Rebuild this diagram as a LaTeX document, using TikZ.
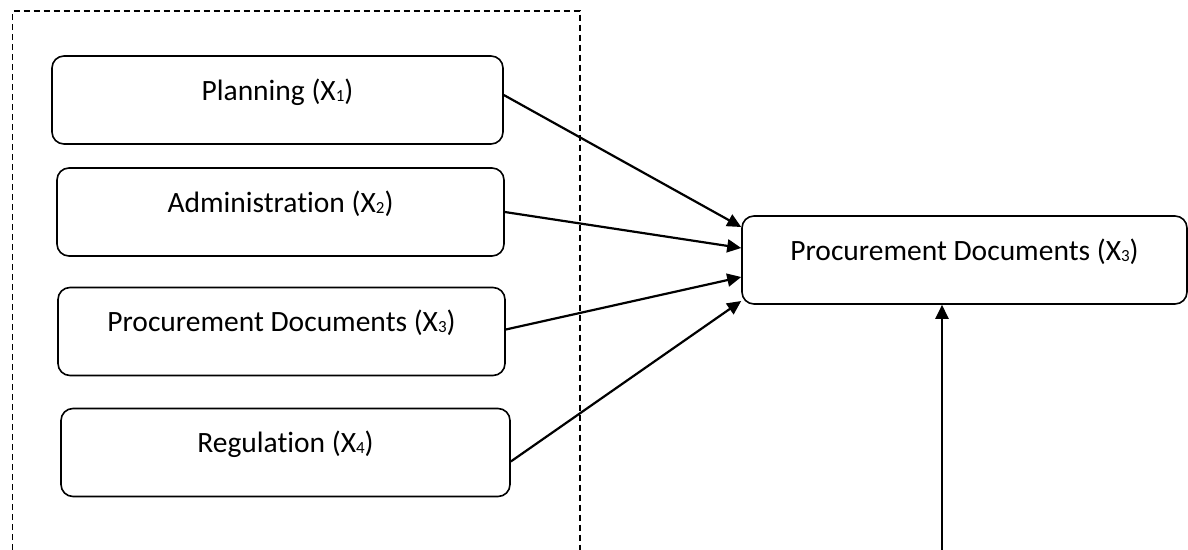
\documentclass[tikz,border=0pt]{standalone}
\usepackage{fontspec}
\setmainfont{Carlito}[Ligatures=NoCommon]
\usetikzlibrary{arrows.meta}
% index of a variable, set as a small digit near the baseline
\newcommand\varidx[1]{\raisebox{-0.05em}{\fontsize{17}{17}\selectfont #1}}
\begin{document}
\begin{tikzpicture}[x=1pt,y=-1pt,
  factor/.style={draw, line width=1.6pt, rounded corners=12pt, inner sep=0pt,
    minimum height=88pt, text height=18pt, text depth=18pt,
    font=\fontsize{29.5}{34}\selectfont},
  link/.style={line width=2.2pt, -{Triangle[length=14pt,width=13pt]}},
  group/.style={line width=1.4pt, dash pattern=on 6.5pt off 3.5pt}]
\useasboundingbox (0,0) rectangle (1188,549);

% dashed frame round the independent variables (open at the bottom)
\draw[group] (12.5,560) -- (12.5,11) -- (580,11) -- (580,560);

% independent variables
\node[factor, minimum width=451pt] (plan) at (277.5,100) {Planning (X\varidx{1})};
\node[factor, minimum width=447pt] (admin) at (280.5,212) {Administration (X\varidx{2})};
\node[factor, minimum width=447pt] (docs) at (281.5,331.5) {Procurement Documents (X\varidx{3})};
\node[factor, minimum width=449pt] (reg) at (285.5,452.5) {Regulation (X\varidx{4})};

% dependent variable
\node[factor, minimum width=445pt] (target) at (964.5,260) {Procurement Documents (X\varidx{3})};

% influences
\draw[link] ([yshift=5pt]plan.east) -- ([yshift=33pt]target.west);
\draw[link] (admin.east) -- ([yshift=12pt]target.west);
\draw[link] ([yshift=2pt]docs.east) -- ([yshift=-17pt]target.west);
\draw[link] ([yshift=-9pt]reg.east) -- ([yshift=-41pt]target.west);

\coordinate (below) at (942,560);
\draw[link] (below) -- (below |- target.south);
\end{tikzpicture}
\end{document}
